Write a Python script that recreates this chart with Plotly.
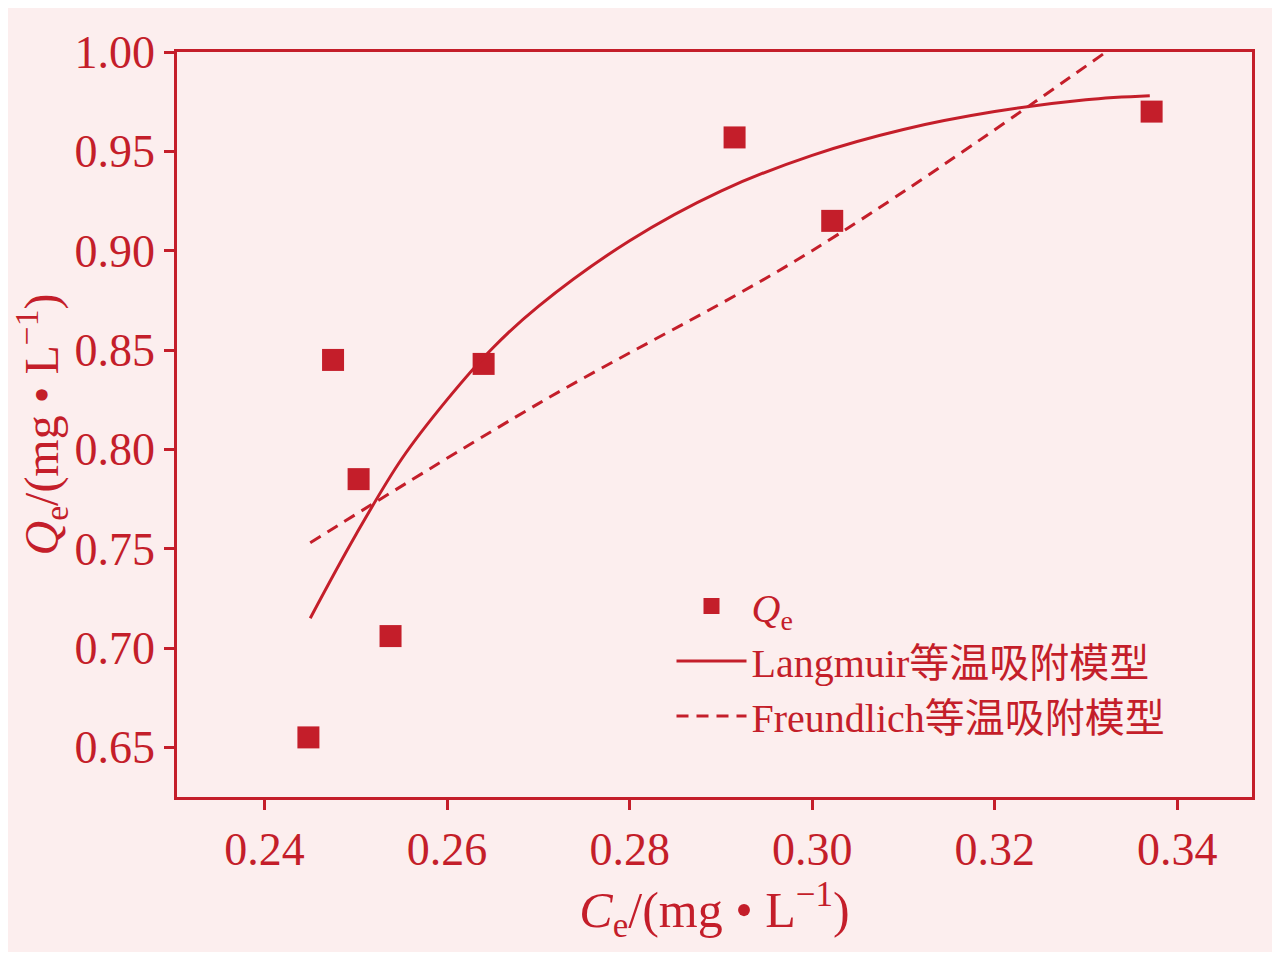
import plotly.graph_objects as go

ce = [0.2448, 0.2475, 0.2503, 0.2538, 0.2640, 0.2915, 0.3022, 0.3372]
qe = [0.655, 0.845, 0.785, 0.706, 0.843, 0.957, 0.915, 0.970]

lang_x = [0.245, 0.250, 0.255, 0.260, 0.265, 0.270, 0.280, 0.290, 0.300, 0.310, 0.320, 0.330, 0.337]
lang_y = [0.715, 0.757, 0.795, 0.825, 0.851, 0.872, 0.905, 0.930, 0.948, 0.961, 0.970, 0.976, 0.978]

freu_x = [0.245, 0.270, 0.300, 0.3322]
freu_y = [0.753, 0.823, 0.900, 1.000]

red = "#C41E2A"
font = "Liberation Serif, Noto Sans CJK SC"

fig = go.Figure()
fig.add_trace(go.Scatter(x=ce, y=qe, mode="markers", name="<i>Q</i><sub>e</sub>",
                         marker=dict(symbol="square", size=22, color=red)))
fig.add_trace(go.Scatter(x=lang_x, y=lang_y, mode="lines", name="Langmuir等温吸附模型",
                         line=dict(color=red, width=3, shape="spline")))
fig.add_trace(go.Scatter(x=freu_x, y=freu_y, mode="lines", name="Freundlich等温吸附模型",
                         line=dict(color=red, width=3, dash="12px,8px", shape="spline")))

axis = dict(showgrid=False, zeroline=False, showline=True, mirror=True, linecolor=red,
            linewidth=2.5, ticks="outside", ticklen=10, tickcolor=red, tickwidth=2.5,
            tickfont=dict(size=46, color=red, family=font))
fig.update_xaxes(range=[0.2304, 0.3482], tickvals=[0.24, 0.26, 0.28, 0.30, 0.32, 0.34],
                 tickformat=".2f",
                 title=dict(text="<i>C</i><sub>e</sub>/(mg • L<sup>−1</sup>)",
                            font=dict(size=50, color=red, family=font), standoff=14), **axis)
fig.update_yaxes(range=[0.625, 1.0], tickvals=[0.65, 0.70, 0.75, 0.80, 0.85, 0.90, 0.95, 1.00],
                 tickformat=".2f",
                 title=dict(text="<i>Q</i><sub>e</sub>/(mg • L<sup>−1</sup>)",
                            font=dict(size=48, color=red, family=font), standoff=4), **axis)

fig.update_layout(
    width=1264, height=944,
    paper_bgcolor="#FCEEEE", plot_bgcolor="#FCEEEE",
    margin=dict(l=169, r=20, t=44, b=155),
    showlegend=True,
    legend=dict(x=0.46, y=0.3, xanchor="left", yanchor="top", bgcolor="rgba(0,0,0,0)",
                font=dict(size=40, color=red, family=font), itemwidth=70),
)

fig.write_html("out.html")
